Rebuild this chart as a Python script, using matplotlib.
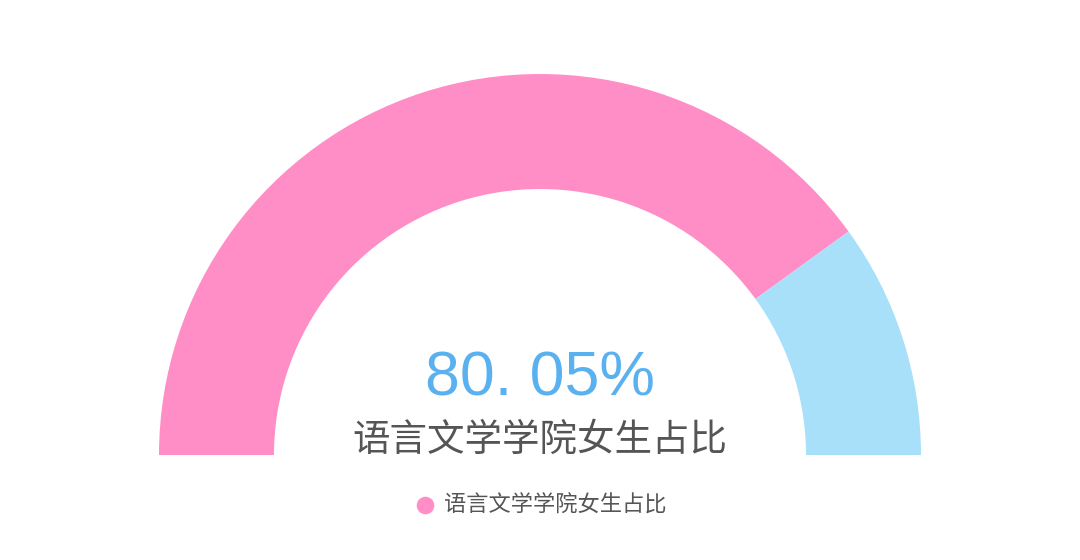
import matplotlib.pyplot as plt
from matplotlib.patches import Wedge

plt.rcParams['font.family'] = ['Noto Sans CJK SC', 'DejaVu Sans']

label = "语言文学学院女生占比"
female_pct = 80.05
value_text = "80. 05%"
colors = ["#FF8EC6", "#A8E0F9"]

fig = plt.figure(figsize=(10.8, 5.6), dpi=100)
ax = fig.add_axes([0, 0, 1, 1])
ax.set_xlim(0, 1080)
ax.set_ylim(0, 560)
ax.axis("off")

cx, cy = 540, 105
r_out, r_in = 381, 266
width = r_out - r_in

# gauge goes from 180 deg (left) clockwise to 0 deg (right)
split = 180 - 180 * female_pct / 100
ax.add_patch(Wedge((cx, cy), r_out, split, 180, width=width, color=colors[0], lw=0))
ax.add_patch(Wedge((cx, cy), r_out, 0, split, width=width, color=colors[1], lw=0))

ax.text(cx, 181, value_text, ha="center", va="center", fontsize=45,
        color="#5AB1EF", family=["Liberation Sans", "DejaVu Sans"])
ax.text(cx, 120, label, ha="center", va="center", fontsize=27, color="#555555")

# legend
ax.scatter([425], [55], s=160, color=colors[0], lw=0)
ax.text(444, 55, label, ha="left", va="center", fontsize=16, color="#555555")

fig.savefig("out.png", dpi=100)
